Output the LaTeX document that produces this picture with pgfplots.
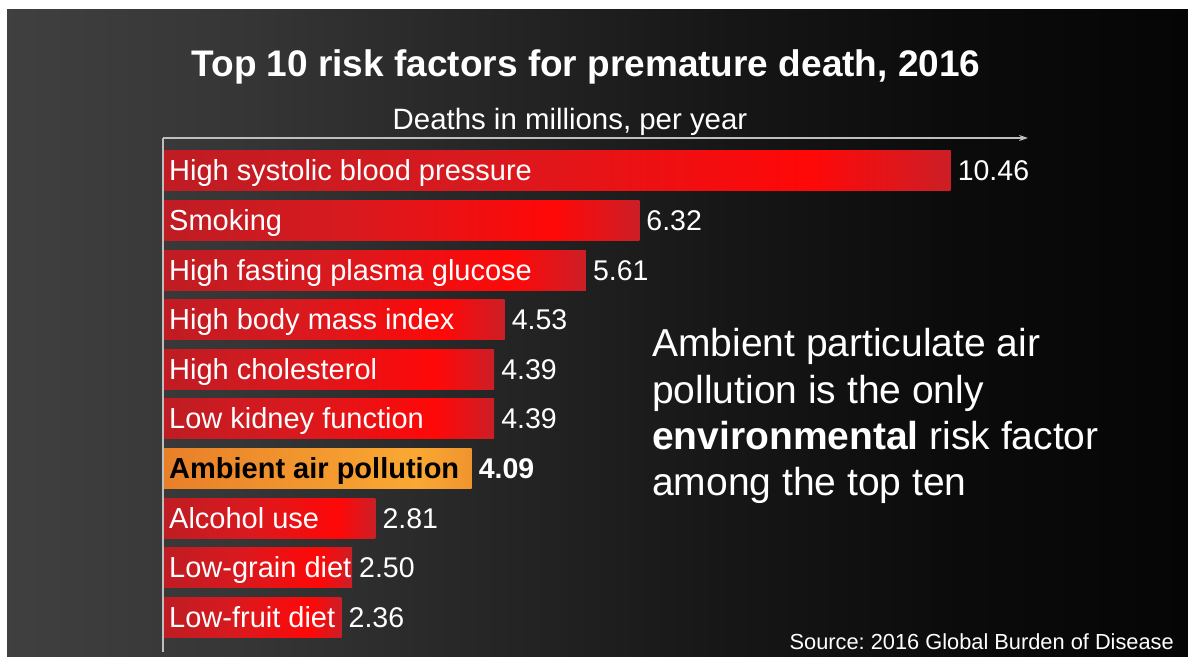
\documentclass[border=0pt]{standalone}
\usepackage{pgfplots}
\pgfplotsset{compat=1.18}
\usepackage{fontspec}
\setmainfont{Liberation Sans}
\usetikzlibrary{arrows.meta}
\frenchspacing

\definecolor{axisgray}{RGB}{190,190,190}

% slide background: grey on the left fading to black on the right
\pgfdeclarehorizontalshading{slidebg}{100bp}{%
  rgb(0bp)=(0.25,0.25,0.25); rgb(25bp)=(0.25,0.25,0.25);
  rgb(35bp)=(0.21,0.21,0.21); rgb(45bp)=(0.15,0.15,0.15);
  rgb(55bp)=(0.09,0.09,0.09); rgb(65bp)=(0.045,0.045,0.045);
  rgb(75bp)=(0.02,0.02,0.02); rgb(100bp)=(0.02,0.02,0.02)}
% bar fills: darker at the base, brightest near the tip
\pgfdeclarehorizontalshading{redbar}{100bp}{%
  rgb(0bp)=(0.75,0.11,0.14); rgb(25bp)=(0.75,0.11,0.14);
  rgb(45bp)=(0.85,0.10,0.12); rgb(66bp)=(1,0.03,0.03);
  rgb(75bp)=(0.80,0.12,0.15); rgb(100bp)=(0.80,0.12,0.15)}
\pgfdeclarehorizontalshading{orangebar}{100bp}{%
  rgb(0bp)=(0.91,0.50,0.16); rgb(25bp)=(0.91,0.50,0.16);
  rgb(66bp)=(0.98,0.66,0.20); rgb(75bp)=(0.94,0.58,0.18);
  rgb(100bp)=(0.94,0.58,0.18)}

\newcommand{\barfont}{\fontsize{29}{34}\selectfont}
\newcommand{\valfont}{\fontsize{28.5}{34}\selectfont}

\begin{document}
\begin{tikzpicture}[x=1pt,y=1pt]
  \path[use as bounding box] (0,0) rectangle (1188,656);
  \fill[white] (0,0) rectangle (1188,656);
  \shade[shading=slidebg] (7,0) rectangle (1188,646);

  % axis lines
  \draw[axisgray, line width=1.3pt] (163,4) -- (163,518);
  \draw[axisgray, line width=1.3pt, -{Stealth[length=9pt,width=6pt]}] (163,518) -- (1028,518);

  \begin{axis}[
    at={(164pt,518pt)}, anchor=north west,
    scale only axis, width=862pt, height=514pt,
    xmin=0, xmax=11.463, ymin=-0.665, ymax=9.70, y dir=reverse,
    axis lines=none, clip=false,
    every axis plot/.append style={xbar, bar width=40pt, bar shift=0pt, draw=none, shade},
    point meta=x,
    /pgf/number format/assume math mode=true,
    nodes near coords={\pgfmathprintnumber[fixed,fixed zerofill,precision=2]{\pgfplotspointmeta}},
    every node near coord/.append style={anchor=base west, inner sep=0pt,
      xshift=7pt, yshift=-10pt, text=white, font=\valfont},
  ]
    \addplot[shading=redbar] coordinates {(10.46,0)};
    \addplot[shading=redbar] coordinates {(6.32,1)};
    \addplot[shading=redbar] coordinates {(5.61,2)};
    \addplot[shading=redbar] coordinates {(4.53,3)};
    \addplot[shading=redbar] coordinates {(4.39,4)};
    \addplot[shading=redbar] coordinates {(4.39,5)};
    \addplot[shading=orangebar,
      nodes near coords style={font=\valfont\bfseries}] coordinates {(4.09,6)};
    \addplot[shading=redbar] coordinates {(2.81,7)};
    \addplot[shading=redbar] coordinates {(2.50,8)};
    \addplot[shading=redbar] coordinates {(2.36,9)};

    % category names inside the bars
    \begin{scope}[every node/.style={anchor=base west, inner sep=0pt,
        xshift=5pt, yshift=-10pt, text=white, font=\barfont}]
      \node at (axis cs:0,0) {High systolic blood pressure};
      \node at (axis cs:0,1) {Smoking};
      \node at (axis cs:0,2) {High fasting plasma glucose};
      \node at (axis cs:0,3) {High body mass index};
      \node at (axis cs:0,4) {High cholesterol};
      \node at (axis cs:0,5) {Low kidney function};
      \node[text=black, font=\barfont\bfseries] at (axis cs:0,6) {Ambient air pollution};
      \node at (axis cs:0,7) {Alcohol use};
      \node at (axis cs:0,8) {Low-grain diet};
      \node at (axis cs:0,9) {Low-fruit diet};
    \end{scope}
  \end{axis}

  % titles and notes
  \node[anchor=base, text=white, font=\fontsize{37}{44}\selectfont\bfseries]
    at (586,579) {Top 10 risk factors for premature death, 2016};
  \node[anchor=base, text=white, font=\fontsize{29.4}{34}\selectfont]
    at (570,526) {Deaths in millions, per year};
  % base of a multi-line node is the baseline of its last line
  \node[anchor=base west, inner sep=0pt, text=white, align=left,
        font=\fontsize{39}{46.5}\selectfont]
    at (652,160) {Ambient particulate air\\pollution is the only\\%
      \textbf{environmental} risk factor\\among the top ten};
  \node[anchor=base east, inner sep=0pt, text=white, font=\fontsize{21.8}{26}\selectfont]
    at (1174,7) {Source: 2016 Global Burden of Disease};
\end{tikzpicture}
\end{document}
